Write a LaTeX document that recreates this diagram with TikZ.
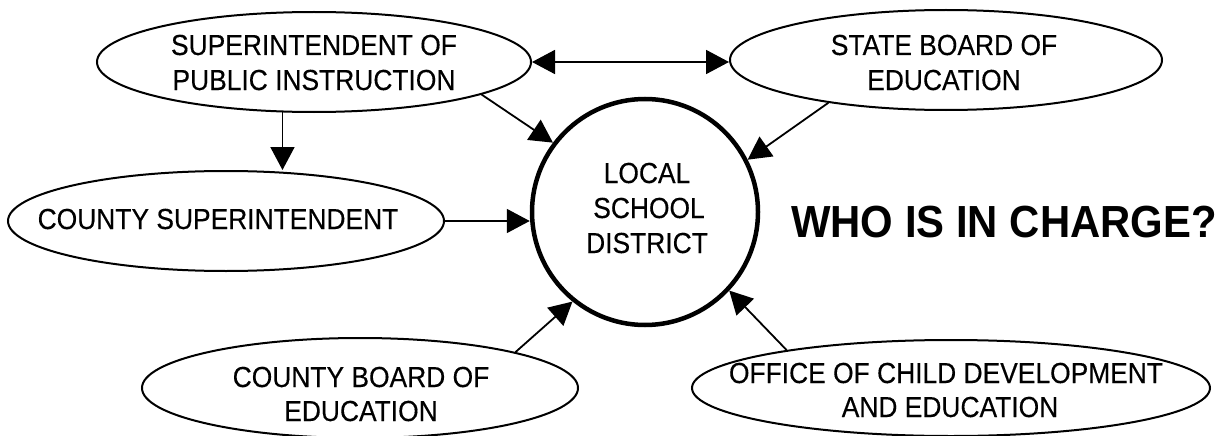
\documentclass[tikz,border=0pt]{standalone}
\usepackage{fontspec}
\setmainfont{Liberation Sans}[FakeStretch=0.91,FakeBold=0.3]
\newfontfamily\whofont{Liberation Sans}[FakeStretch=0.93]
\usetikzlibrary{shapes.geometric,arrows.meta}
\begin{document}
\begin{tikzpicture}[x=1pt,y=-1pt,
  oval/.style={ellipse, draw, line width=2pt, inner sep=0pt},
  lbl/.style={anchor=base, inner sep=0pt, font=\fontsize{29}{35}\selectfont},
  conn/.style={line width=1.8pt, -{Triangle[length=23pt,width=24pt]}},
  dconn/.style={line width=1.8pt, {Triangle[length=23pt,width=24pt]}-{Triangle[length=23pt,width=24pt]}},
]
\useasboundingbox (0,0) rectangle (1232,436);
% shapes
\node[oval, minimum width=434pt, minimum height=100pt] (sup) at (314,62) {};
\node[oval, minimum width=432pt, minimum height=100pt] (sb) at (946,60) {};
\node[oval, minimum width=436pt, minimum height=100pt] (csup) at (226,221) {};
\node[oval, minimum width=436pt, minimum height=100pt] (cbe) at (360,388) {};
\node[oval, minimum width=518pt, minimum height=96pt] (ocd) at (951,388) {};
\node[circle, draw, line width=4.5pt, minimum size=226pt, inner sep=0pt] (lsd) at (645,212) {};
% texts
\node[lbl] (sup1) at (314,55) {SUPERINTENDENT OF};
\node[lbl] (sup2) at (314,90) {PUBLIC INSTRUCTION};
\node[lbl] (sb1) at (944,55) {STATE BOARD OF};
\node[lbl] (sb2) at (944,90) {EDUCATION};
\node[lbl] (csupt) at (218,229) {COUNTY SUPERINTENDENT};
\node[lbl] (lsd1) at (647,183) {LOCAL};
\node[lbl] (lsd2) at (649,218) {SCHOOL};
\node[lbl] (lsd3) at (647,253) {DISTRICT};
\node[lbl] (cbe1) at (361,387) {COUNTY BOARD OF};
\node[lbl] (cbe2) at (361,421) {EDUCATION};
\node[lbl] (ocd1) at (946,383) {OFFICE OF CHILD DEVELOPMENT};
\node[lbl] (ocd2) at (950,417) {AND EDUCATION};
\node[anchor=base, inner sep=0pt, font=\whofont\bfseries\fontsize{45}{54}\selectfont] (who) at (1004,237) {WHO IS IN CHARGE?};
% connectors
\draw[dconn] (sup.east) -- (sup.east -| sb.west);
\draw[conn] (sup.238) -- (sup.238 |- csup.north);
\draw[conn] (sup.349) -- (lsd.143);
\draw[conn] (sb.200) -- (lsd.27);
\draw[conn] (csup.east) -- (csup.east -| lsd.west);
\draw[conn] (cbe.13) -- (lsd.231);
\draw[conn] (ocd.167) -- (lsd.317);
\end{tikzpicture}
\end{document}
